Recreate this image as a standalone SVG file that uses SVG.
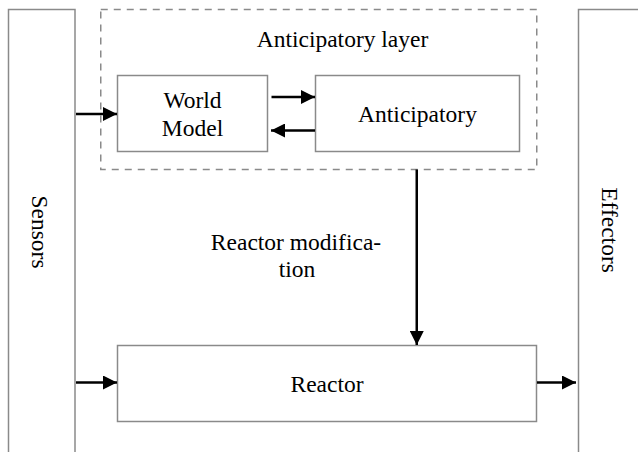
<svg xmlns="http://www.w3.org/2000/svg" width="638" height="452" viewBox="0 0 638 452">
  <style>
    .box { fill: #ffffff; stroke: #8a8a8a; stroke-width: 1.5; }
    .layer { fill: none; stroke: #8a8a8a; stroke-width: 1.5; stroke-dasharray: 7 6; }
    .lbl { font-family: 'Liberation Serif', 'Times New Roman', serif; font-size: 23.5px; fill: #000; text-anchor: middle; }
    .edge { stroke: #000; stroke-width: 2.5; fill: none; marker-end: url(#head); }
  </style>
  <defs>
    <marker id="head" markerUnits="userSpaceOnUse" markerWidth="14" markerHeight="14" viewBox="0 0 14 14" refX="14" refY="7" orient="auto">
      <path d="M0,0 L14,7 L0,14 Z" fill="#000"/>
    </marker>
  </defs>

  <!-- side columns, open past the lower/right edge of the canvas -->
  <g id="sensors">
    <rect class="box" x="8.5" y="9.5" width="66.5" height="460"/>
    <text class="lbl" transform="translate(31.5,232) rotate(90)">Sensors</text>
  </g>

  <g id="effectors">
    <rect class="box" x="578.5" y="9.5" width="80" height="460"/>
    <text class="lbl" transform="translate(601.5,230) rotate(90)">Effectors</text>
  </g>

  <g id="anticipatory-layer">
    <rect class="layer" x="100.75" y="9.5" width="436" height="160"/>
    <text class="lbl" x="342.5" y="46.5">Anticipatory layer</text>
  </g>

  <g id="world-model">
    <rect class="box" x="117.5" y="75.5" width="150" height="76"/>
    <text class="lbl" x="192.5" y="108">World</text>
    <text class="lbl" x="192.5" y="136">Model</text>
  </g>

  <g id="anticipatory">
    <rect class="box" x="315.5" y="75.5" width="204" height="76"/>
    <text class="lbl" x="417.5" y="121.5">Anticipatory</text>
  </g>

  <g id="reactor">
    <rect class="box" x="117.5" y="345.5" width="419" height="76"/>
    <text class="lbl" x="327" y="391.5">Reactor</text>
  </g>

  <g id="modification-label">
    <text class="lbl" x="296" y="250">Reactor modifica-</text>
    <text class="lbl" x="297" y="277">tion</text>
  </g>

  <g id="connectors">
    <line class="edge" x1="76" y1="114" x2="117" y2="114"/>
    <line class="edge" x1="271.5" y1="97" x2="315" y2="97"/>
    <line class="edge" x1="315" y1="130.5" x2="271" y2="130.5"/>
    <line class="edge" x1="416.75" y1="169.5" x2="416.75" y2="345"/>
    <line class="edge" x1="76" y1="382.5" x2="117" y2="382.5"/>
    <line class="edge" x1="537" y1="382.5" x2="576" y2="382.5"/>
  </g>
</svg>
